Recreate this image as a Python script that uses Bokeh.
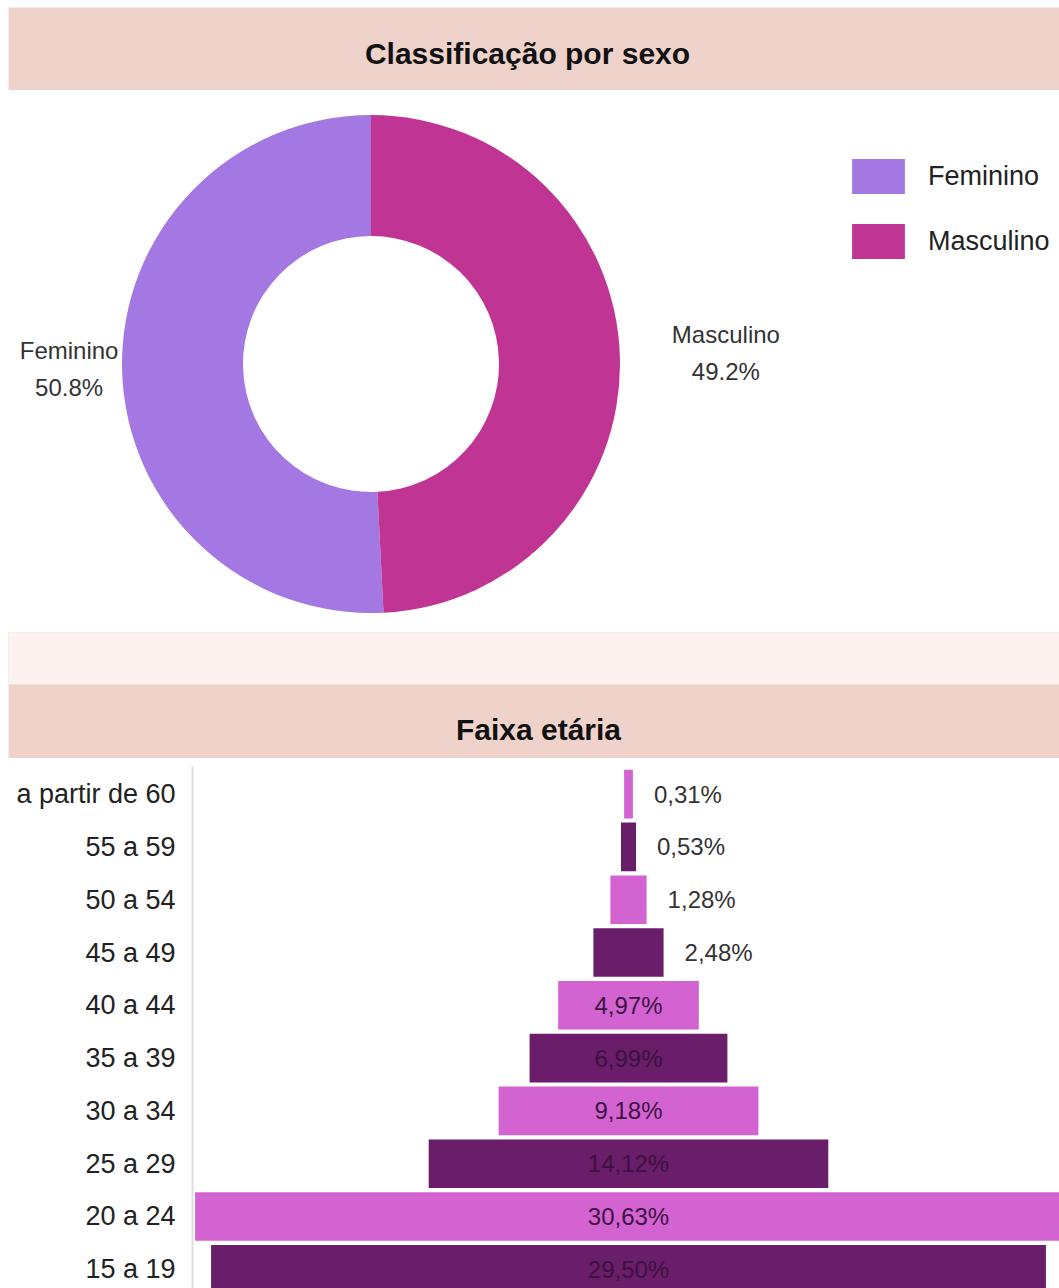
import math
from bokeh.plotting import figure
from bokeh.layouts import column
from bokeh.models import (Range1d, ColumnDataSource, Legend, LegendItem,
                          BoxAnnotation, FixedTicker)
from bokeh.core.properties import value
from bokeh.embed import file_html
from bokeh.resources import INLINE

# ---------------- data ----------------
title_sex = "Classificação por sexo"
title_age = "Faixa etária"

sex_categories = ["Feminino", "Masculino"]
sex_values = [50.8, 49.2]

age_groups = ["a partir de 60", "55 a 59", "50 a 54", "45 a 49", "40 a 44",
              "35 a 39", "30 a 34", "25 a 29", "20 a 24", "15 a 19"]
age_values = [0.31, 0.53, 1.28, 2.48, 4.97, 6.99, 9.18, 14.12, 30.63, 29.50]

# ---------------- style ----------------
W = 1059
FONT = "Liberation Sans"
HEADER = "#efd3ca"
BAND = "#fdf2ef"
SEX_COLORS = ["#a478e3", "#c03593"]
LIGHT = "#d463d2"
DARK = "#6a1d68"
TXT = "#333333"
INSIDE_TXT = "#3c1242"


def base(height, xr, yr, bg="white", **kw):
    f = figure(width=W, height=height, x_range=xr, y_range=yr,
               output_backend="svg", toolbar_location=None,
               x_axis_location=None, y_axis_location=kw.pop("yloc", None),
               min_border=0, outline_line_color=None,
               background_fill_color=bg, border_fill_color="white", **kw)
    f.grid.visible = False
    f.frame_align = False
    return f


# ---------------- header 1 ----------------
h1 = base(90, Range1d(8, W), Range1d(90, 7), bg=HEADER,
          min_border_left=8, min_border_top=7)
h1.text(x=[527], y=[52.7], text=[title_sex], text_font=value(FONT),
        text_font_style="bold", text_font_size="30px", text_align="center",
        text_baseline="alphabetic", text_color="#111111")

# ---------------- donut ----------------
d = base(542, Range1d(0, W), Range1d(-632, -90))
cx, cy = 370.5, -363.5
R_OUT, R_IN = 249, 128
total = sum(sex_values)
starts, ends, mids = [], [], []
acc = 0.0
for v in sex_values:
    s = math.pi / 2 + acc / total * 2 * math.pi
    acc += v
    e = math.pi / 2 + acc / total * 2 * math.pi
    starts.append(s)
    ends.append(e)
    mids.append((s + e) / 2)

src = ColumnDataSource(dict(cat=sex_categories, val=sex_values,
                            start=starts, end=ends, color=SEX_COLORS))
wr = d.annular_wedge(x=cx, y=cy, inner_radius=R_IN, outer_radius=R_OUT,
                     start_angle="start", end_angle="end",
                     direction="anticlock", fill_color="color",
                     line_color=None, source=src)

label_dist = [302, 355]
lx = [cx + math.cos(m) * r for m, r in zip(mids, label_dist)]
ly = [cy + math.sin(m) * r for m, r in zip(mids, label_dist)]
pct = [f"{v:.1f}%" for v in sex_values]
d.text(x=lx, y=ly, text=sex_categories, text_font=value(FONT),
       text_font_size="24px", text_align="center", text_baseline="alphabetic",
       y_offset=-21, text_color=TXT)
d.text(x=lx, y=ly, text=pct, text_font=value(FONT),
       text_font_size="24px", text_align="center", text_baseline="alphabetic",
       y_offset=16, text_color=TXT)

legend = Legend(items=[LegendItem(label=c, renderers=[wr], index=i)
                       for i, c in enumerate(sex_categories)],
                location=(845, 369), glyph_width=66, glyph_height=44,
                label_standoff=17, spacing=21, padding=0, margin=0,
                border_line_color=None, background_fill_alpha=0,
                label_text_font=FONT, label_text_font_size="27px",
                label_text_color="#222222", label_height=44)
d.add_layout(legend)

# ---------------- header 2 (with light band) ----------------
h2 = base(126, Range1d(8, W), Range1d(758, 632), bg=HEADER,
          min_border_left=8)
h2.add_layout(BoxAnnotation(top=632, bottom=684, fill_color=BAND,
                            fill_alpha=1, line_color=None))
h2.text(x=[538], y=[729], text=[title_age], text_font=value(FONT),
        text_font_style="bold", text_font_size="30px", text_align="center",
        text_baseline="alphabetic", text_color="#111111")

# ---------------- age bars ----------------
SCALE = 28.3      # px per percent
CENTER = 628      # page x of bar center
b = base(530, Range1d(-(CENTER - 192) / SCALE, (W - CENTER) / SCALE),
         Range1d(9.364, -0.523), yloc="left",
         min_border_left=192, min_border_top=8)
ys = list(range(len(age_groups)))
colors = [LIGHT if i % 2 == 0 else DARK for i in ys]
bsrc = ColumnDataSource(dict(y=ys, left=[-v / 2 for v in age_values],
                             right=[v / 2 for v in age_values],
                             color=colors))
b.hbar(y="y", left="left", right="right", height=0.92, fill_color="color",
       line_color=None, source=bsrc)

fmt = [f"{v:.2f}".replace(".", ",") + "%" for v in age_values]
INSIDE_MIN = 4.0
ins = [i for i, v in enumerate(age_values) if v >= INSIDE_MIN]
outs = [i for i, v in enumerate(age_values) if v < INSIDE_MIN]
b.text(x=[0] * len(ins), y=[ys[i] for i in ins], text=[fmt[i] for i in ins],
       text_font=value(FONT), text_font_size="24px", text_align="center",
       text_baseline="middle", text_color=INSIDE_TXT)
b.text(x=[age_values[i] / 2 for i in outs], y=[ys[i] for i in outs],
       text=[fmt[i] for i in outs], x_offset=21, text_font=value(FONT),
       text_font_size="24px", text_align="left", text_baseline="middle",
       text_color=TXT)

ax = b.yaxis[0]
ax.ticker = FixedTicker(ticks=ys)
ax.major_label_overrides = {i: g for i, g in zip(ys, age_groups)}
ax.major_label_text_font = FONT
ax.major_label_text_font_size = "27px"
ax.major_label_text_color = "#222222"
ax.axis_line_color = "#dddddd"
ax.axis_line_width = 2
ax.major_tick_line_color = None
ax.minor_tick_line_color = None
ax.major_tick_out = 0
ax.major_tick_in = 0
ax.major_label_standoff = 17

layout = column(h1, d, h2, b, spacing=0)
open("out.html", "w").write(file_html(layout, INLINE))
